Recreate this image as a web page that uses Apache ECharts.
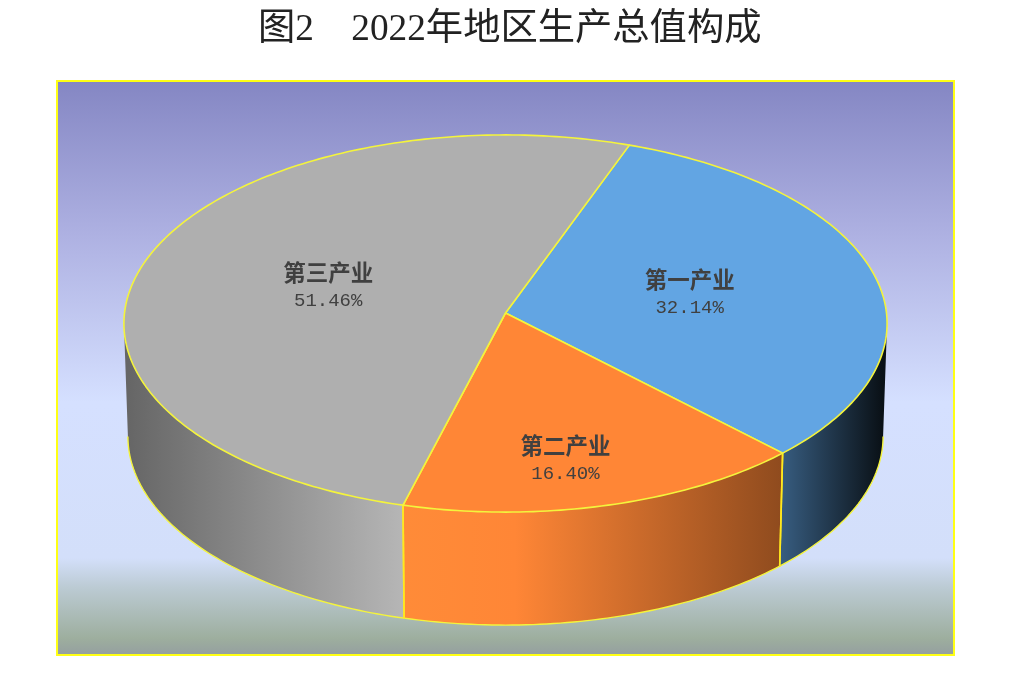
<!DOCTYPE html>
<html>
<head>
<meta charset="utf-8">
<style>html,body{margin:0;padding:0;background:#fff}#c{width:1016px;height:675px}</style>
<script src="https://cdn.jsdelivr.net/npm/echarts@6/dist/echarts.min.js"></script>
</head>
<body>
<div id="c"></div>
<script>
const titleText = '图2    2022年地区生产总值构成';
const categories = ['第一产业', '第二产业', '第三产业'];
const shares = [32.14, 16.40, 51.46];
const shareLabels = ['32.14%', '16.40%', '51.46%'];
const sliceColors = ['#62a5e3', '#ff8636', '#afafaf'];

// projection of the 3D disc
const START_DEG = 20.0, K = 0.0557;
const TOP = { x: 505.5, y: 313, a: 381, b: 188 };
const BOTTOM = { x: 505.5, y: 426, a: 377, b: 188 };
const SIL_L = 266.8, SIL_R = 93.2;
const LABEL_R = 0.5, LABEL_NUDGE = [[-1, 1], [10, 54], [3, 2]];
// brightness across the wall: [x, factor]
const SHADE = [[128, 0.58], [403, 1.04], [515, 1.0], [782, 0.56], [882, 0.1]];

function project(d, deg, r) {
  const t = deg * Math.PI / 180, u = r * Math.sin(t), v = r * Math.cos(t), w = 1 + K * v;
  return [d.x + d.a * u / w, d.y - d.b * v / w];
}
function arc(d, from, to) {
  const pts = [], n = Math.max(2, Math.ceil(Math.abs(to - from)));
  for (let i = 0; i <= n; i++) pts.push(project(d, from + (to - from) * i / n, 1));
  return pts;
}
function scale(hex, f) {
  const n = parseInt(hex.slice(1), 16), c = [n >> 16, (n >> 8) & 255, n & 255]
    .map(x => Math.min(255, Math.round(x * f)));
  return 'rgb(' + c.join(',') + ')';
}
function wallFill(hex) {
  const x0 = SHADE[0][0], x1 = SHADE[SHADE.length - 1][0];
  return new echarts.graphic.LinearGradient(x0, 0, x1, 0,
    SHADE.map(s => ({ offset: (s[0] - x0) / (x1 - x0), color: scale(hex, s[1]) })), true);
}
const cumulative = [];
shares.reduce((acc, v, i) => (cumulative[i] = acc + v, acc + v), 0);
const total = shares.reduce((a, b) => a + b, 0);

function renderItem(params, api) {
  const i = params.dataIndex, val = api.value(0);
  const from = START_DEG + (cumulative[i] - val) / total * 360;
  const to = from + val / total * 360;
  const children = [];
  const wFrom = Math.max(from, SIL_R), wTo = Math.min(to, SIL_L);
  const yellow = '#f4f43c';
  if (wTo > wFrom) {
    const topArc = arc(TOP, wFrom, wTo), botArc = arc(BOTTOM, wFrom, wTo);
    children.push({
      type: 'polygon', z2: 1,
      shape: { points: topArc.concat(botArc.slice().reverse()) },
      style: { fill: wallFill(sliceColors[i]), stroke: null }
    });
    children.push({
      type: 'polyline', z2: 2, shape: { points: botArc },
      style: { fill: null, stroke: yellow, lineWidth: 1.4 }
    });
    [[from, SIL_R, SIL_L], [to, SIL_R, SIL_L]].forEach(e => {
      if (e[0] > e[1] && e[0] < e[2]) children.push({
        type: 'line', z2: 2,
        shape: (p => ({ x1: p[0][0], y1: p[0][1], x2: p[1][0], y2: p[1][1] }))
          ([project(TOP, e[0], 1), project(BOTTOM, e[0], 1)]),
        style: { stroke: '#ffe81e', lineWidth: 1.6 }
      });
    });
  }
  children.push({
    type: 'polygon', z2: 3,
    shape: { points: [project(TOP, 0, 0)].concat(arc(TOP, from, to)) },
    style: { fill: sliceColors[i], stroke: yellow, lineWidth: 1.6, lineJoin: 'round' }
  });
  const mid = project(TOP, (from + to) / 2, LABEL_R);
  const lx = mid[0] + LABEL_NUDGE[i][0], ly = mid[1] + LABEL_NUDGE[i][1];
  children.push({
    type: 'text', z2: 4, x: lx, y: ly - 15,
    style: { text: categories[i], fill: '#404040', align: 'center', verticalAlign: 'middle',
      font: 'bold 22.5px "Noto Sans CJK SC"' }
  });
  children.push({
    type: 'text', z2: 4, x: lx, y: ly + 14,
    style: { text: shareLabels[i], fill: '#404040', align: 'center', verticalAlign: 'middle',
      font: '19px "Liberation Mono"' }
  });
  return { type: 'group', children };
}

const chart = echarts.init(document.getElementById('c'), null, { renderer: 'canvas', width: 1016, height: 675 });
chart.setOption({
  animation: false,
  backgroundColor: '#ffffff',
  title: {
    text: titleText, left: 253, top: 7,
    textStyle: { fontFamily: '"Liberation Serif","Noto Sans CJK SC"', fontSize: 37.3, fontWeight: 'normal', color: '#222222' }
  },
  graphic: [{
    type: 'rect', z: -1, silent: true,
    shape: { x: 57, y: 81, width: 897, height: 574 },
    style: {
      stroke: '#ffff14', lineWidth: 2,
      fill: new echarts.graphic.LinearGradient(0, 0, 0, 1, [
        { offset: 0, color: '#8486c3' },
        { offset: 0.27, color: '#aeb1e2' },
        { offset: 0.56, color: '#d5e0ff' },
        { offset: 0.83, color: '#d3dffa' },
        { offset: 0.88, color: '#bccbd4' },
        { offset: 0.97, color: '#9dae9e' },
        { offset: 1, color: '#949ea0' }
      ])
    }
  }],
  series: [{
    type: 'custom', coordinateSystem: 'none', silent: true,
    renderItem,
    data: shares.map(v => [v])
  }]
});
</script>
</body>
</html>
